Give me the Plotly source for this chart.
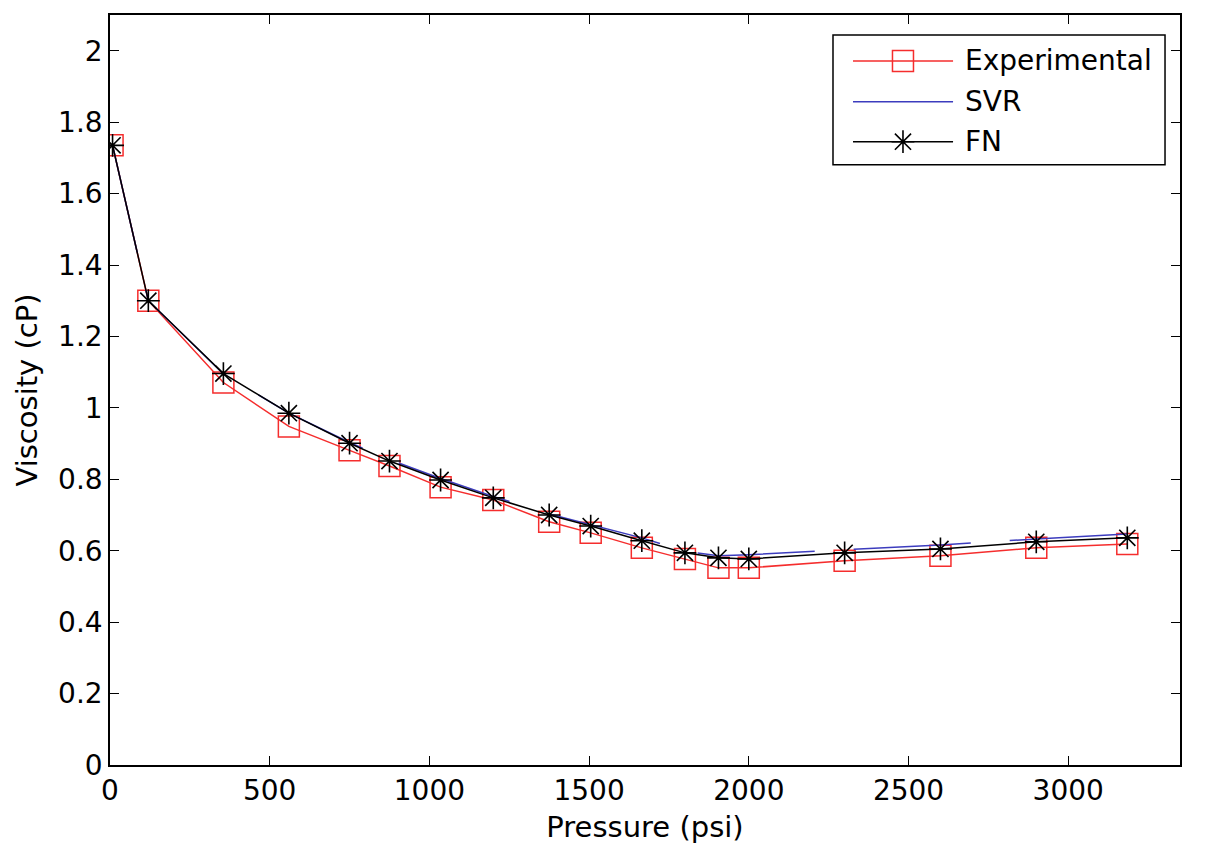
import plotly.graph_objects as go

# ---- data ----
pressure = [8, 120, 355, 560, 750, 875, 1035, 1200, 1375, 1505, 1665, 1800, 1905, 2000, 2300, 2600, 2900, 3185]
experimental = [1.735, 1.300, 1.071, 0.948, 0.881, 0.837, 0.778, 0.742, 0.681, 0.650, 0.608, 0.577, 0.552, 0.552, 0.572, 0.586, 0.608, 0.619]
svr = [1.735, 1.300, 1.095, 0.985, 0.903, 0.855, 0.802, 0.752, 0.703, 0.673, 0.636, 0.598, 0.586, 0.589, 0.602, 0.616, 0.633, 0.647]
fn = [1.735, 1.300, 1.096, 0.985, 0.901, 0.851, 0.798, 0.748, 0.700, 0.669, 0.628, 0.594, 0.580, 0.577, 0.594, 0.605, 0.625, 0.636]

x_tick_vals = [0, 500, 1000, 1500, 2000, 2500, 3000]
y_tick_vals = [0, 0.2, 0.4, 0.6, 0.8, 1.0, 1.2, 1.4, 1.6, 1.8, 2.0]
y_tick_text = ["0", "0.2", "0.4", "0.6", "0.8", "1", "1.2", "1.4", "1.6", "1.8", "2"]
series_names = ["Experimental", "SVR", "FN"]

RED = "rgb(245,45,45)"
BLUE = "rgb(60,60,190)"
BLACK = "black"
FONT = "DejaVu Sans"

svr_dash = ",".join(["109.7px", "39px"] + ["117.3px", "39px"] * 8)

fig = go.Figure()
fig.add_trace(go.Scatter(
    x=pressure, y=experimental, name=series_names[0], mode="lines+markers",
    line=dict(color=RED, width=1.5),
    marker=dict(symbol="square-open", size=21, color=RED, line=dict(width=1.5, color=RED)),
    showlegend=False))
fig.add_trace(go.Scatter(
    x=pressure, y=svr, name=series_names[1], mode="lines",
    line=dict(color=BLUE, width=1.5, dash=svr_dash), showlegend=False))
fig.add_trace(go.Scatter(
    x=pressure, y=fn, name=series_names[2], mode="lines+markers",
    line=dict(color=BLACK, width=1.5),
    marker=dict(symbol="asterisk-open", size=19, color=BLACK, line=dict(width=1.6, color=BLACK)),
    showlegend=False))

# ---- manual legend (MATLAB style) ----
lx0, lx1 = 0.6757, 0.986
ly0, ly1 = 0.8005, 0.9734
row_y = [0.9388, 0.8843, 0.8311]
seg_x0, seg_x1, seg_xm = 0.6944, 0.7879, 0.7411
text_x = 0.7972
colors = [RED, BLUE, BLACK]
shapes = [dict(type="rect", xref="paper", yref="paper", x0=lx0, x1=lx1, y0=ly0, y1=ly1,
               line=dict(color="black", width=1.5), fillcolor="rgba(0,0,0,0)", layer="above")]
annotations = []
for name, c, yy in zip(series_names, colors, row_y):
    shapes.append(dict(type="line", xref="paper", yref="paper", x0=seg_x0, x1=seg_x1, y0=yy, y1=yy,
                       line=dict(color=c, width=1.5)))
    annotations.append(dict(xref="paper", yref="paper", x=text_x, y=yy, text=name, showarrow=False,
                            xanchor="left", yanchor="middle", font=dict(family=FONT, size=28, color="black")))
fig.add_trace(go.Scatter(x=[seg_xm], y=[row_y[0]], xaxis="x2", yaxis="y2", mode="markers",
                         marker=dict(symbol="square-open", size=21, color=RED, line=dict(width=1.5, color=RED)),
                         showlegend=False, hoverinfo="skip"))
fig.add_trace(go.Scatter(x=[seg_xm], y=[row_y[2]], xaxis="x2", yaxis="y2", mode="markers",
                         marker=dict(symbol="asterisk-open", size=19, color=BLACK, line=dict(width=1.6, color=BLACK)),
                         showlegend=False, hoverinfo="skip"))

axis_common = dict(showline=True, linecolor="black", linewidth=1.5, mirror="ticks", ticks="inside",
                   ticklen=9, tickwidth=1.2, tickcolor="black", showgrid=False, zeroline=False,
                   tickfont=dict(family=FONT, size=28, color="black"))

fig.update_layout(
    width=1221, height=856, autosize=False,
    margin=dict(l=102, r=49, t=5, b=99),
    paper_bgcolor="white", plot_bgcolor="white",
    showlegend=False,
    xaxis=dict(range=[0, 3350], tickvals=x_tick_vals, ticktext=[str(v) for v in x_tick_vals],
               title=dict(text="Pressure (psi)", font=dict(family=FONT, size=29, color="black"), standoff=10),
               **axis_common),
    yaxis=dict(range=[0, 2.1], tickvals=y_tick_vals, ticktext=y_tick_text,
               title=dict(text="Viscosity (cP)", font=dict(family=FONT, size=29, color="black"), standoff=12),
               **axis_common),
    xaxis2=dict(overlaying="x", range=[0, 1], visible=False),
    yaxis2=dict(overlaying="y", range=[0, 1], visible=False),
    shapes=shapes, annotations=annotations,
)

fig.write_html("out.html")
